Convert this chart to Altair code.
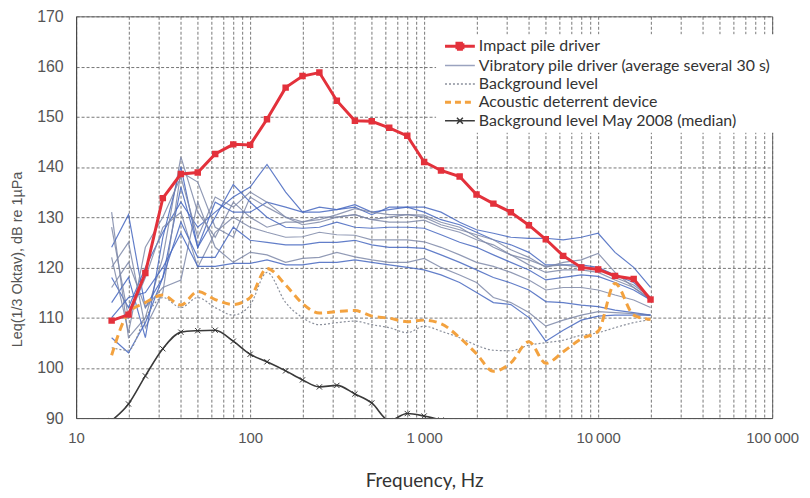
import altair as alt
import pandas as pd

# ---------------- data ----------------
FREQS = [16, 20, 25, 31.5, 40, 50, 63, 80, 100, 125, 160, 200, 250, 315, 400, 500,
         630, 800, 1000, 1250, 1600, 2000, 2500, 3150, 4000, 5000, 6300, 8000,
         10000, 12500, 16000, 20000]

SERIES = [
    "Impact pile driver",
    "Vibratory pile driver (average several 30 s)",
    "Background level",
    "Acoustic deterrent device",
    "Background level May 2008 (median)",
]
COLORS = ["#e3313b", "#9aa3bf", "#8b909c", "#f3a23f", "#3a3a3a"]

IMPACT = [109.4, 110.6, 118.9, 133.8, 138.6, 138.9, 142.6, 144.5, 144.4, 149.5,
          155.8, 158.1, 158.8, 153.2, 149.2, 149.1, 147.8, 146.2, 141.0, 139.3,
          138.1, 134.5, 132.7, 131.0, 128.4, 125.6, 122.3, 120.0, 119.6, 118.3,
          117.7, 113.6]

DETERRENT = [102.5, 111.0, 113.0, 114.5, 112.5, 115.2, 113.6, 112.6, 114.0, 119.8,
             116.5, 112.8, 110.9, 111.2, 111.4, 110.3, 109.9, 109.2, 109.5, 108.8,
             106.0, 102.8, 99.3, 101.0, 105.2, 100.9, 103.2, 105.8, 107.3, 116.8,
             110.5, 109.6]

BACKGROUND = [104.0, 103.5, 110.0, 114.0, 112.0, 114.0, 112.0, 110.5, 112.5, 119.0,
              113.0, 110.0, 108.6, 109.0, 109.3, 108.6, 108.0, 107.0, 108.3, 107.3,
              106.0, 104.5, 103.5, 103.4, 104.5, 105.0, 105.5, 106.5, 107.0, 108.0,
              109.0, 109.6]

MAY2008_FREQS = [16, 20, 25, 31.5, 40, 50, 63, 80, 100, 125, 160, 200, 250, 315,
                 400, 500, 630, 800, 1000, 1250]
MAY2008 = [89.5, 92.8, 98.4, 103.8, 107.1, 107.4, 107.5, 105.3, 102.7, 101.2,
           99.4, 97.6, 96.2, 96.5, 94.8, 93.0, 89.5, 90.9, 90.4, 89.6]

VIB_1 = [118, 112, 120, 127, 133, 128, 131, 134, 136, 140.5, 135, 131, 131, 131.5, 132.5, 131,
         131.5, 132, 131, 129.5, 128.5, 127, 125.5, 124.5, 123, 120.5, 120.5, 120.5, 120, 118.5, 117, 114]
VIB_2 = [131, 106, 110, 122, 142, 131, 126, 133, 130, 128, 129, 129, 130, 130, 130.5, 129.5,
         130, 130.5, 130, 128.5, 127.5, 126.5, 125.5, 123.5, 122, 120, 121, 121.5, 122.8, 119, 116, 113.5]
VIB_3 = [124, 130.5, 112, 118, 136, 124, 133, 131, 131, 133, 132, 131, 132, 131.5, 132, 130.5,
         132, 132, 132, 131, 129, 127.5, 126.8, 126, 125.8, 125.8, 125.5, 126, 126.8, 123, 120, 116]
VIB_4 = [120, 125, 108, 115, 139, 137, 128, 126, 134, 132, 130, 128.5, 129, 130, 130.5, 129.5,
         129, 129, 129.4, 128, 127, 125.5, 124.5, 122.5, 121.5, 120.2, 120.5, 120, 119.8, 118, 116.5, 114]
VIB_5 = [113, 118, 106, 126, 140, 124, 130, 136.5, 133, 130, 128, 127.8, 128, 129, 128, 127.8,
         128, 128, 127.8, 126.5, 125, 124, 122.5, 121, 119.5, 117.5, 118, 118.5, 118.2, 117, 115.5, 113.5]
VIB_6 = [128, 110, 118, 128, 131, 120, 127, 130, 128, 127, 126, 126.1, 127, 126.5, 126.4, 125.5,
         125.5, 125.5, 125.1, 124, 122.5, 121, 120.2, 119, 117.5, 115.5, 116, 116, 115.5, 114.5, 113.5, 112]
VIB_7 = [106, 103, 109, 118, 129, 122, 122, 128, 125.4, 125, 124.5, 124.5, 125, 125, 125.4, 124.5,
         124, 124, 123.8, 122.5, 121, 119.5, 118, 116.9, 115.5, 113.2, 113, 112.5, 112.2, 111.5, 111, 110.5]
VIB_8 = [116, 121, 112, 116, 117.5, 133, 124, 121, 123, 122.5, 121, 121.8, 122, 123, 122.1, 121.5,
         121, 121, 121.8, 120, 118.5, 117, 114, 113, 111, 108.3, 109.5, 110.5, 111.2, 111, 110.8, 110.5]
VIB_9 = [110, 114, 115, 120, 126.8, 120.2, 120.2, 120.8, 120.8, 121.5, 120.5, 120.5, 121, 121, 121.5, 121,
         120.5, 120, 119.5, 118.5, 117, 115, 113, 112.6, 110, 105.3, 107.5, 109.5, 110.3, 110.5, 110.5, 110.5]
VIB_10 = [122, 107, 124, 130, 138, 126, 134, 132, 135, 133, 130, 129.1, 129.5, 130.5, 131.7, 131,
          130.5, 130.5, 130.4, 129, 128, 126, 124, 122.5, 120.5, 119, 119.5, 119.5, 119, 117.5, 116, 113.8]
VIB_RUNS = [VIB_1, VIB_2, VIB_3, VIB_4, VIB_5, VIB_6, VIB_7, VIB_8, VIB_9, VIB_10]
VIB_SHADES = ["#4767c0", "#7e88a8"]

Y_TICKS = [90, 100, 110, 120, 130, 140, 150, 160, 170]
X_TICK_VALUES = [10, 100, 1000, 10000, 100000]
X_TICK_LABELS = ["10", "100", "1\u2009000", "10\u2009000", "100\u2009000"]
X_GRID = [m * 10 ** e for e in range(1, 5) for m in range(1, 10)] + [100000]

# ---------------- tables ----------------
def table(freqs, values, name):
    return pd.DataFrame({"freq": freqs, "value": values, "series": name})

df_imp = table(FREQS, IMPACT, SERIES[0])
df_bg = table(FREQS, BACKGROUND, SERIES[2])
df_add = table(FREQS, DETERRENT, SERIES[3])
df_may = table(MAY2008_FREQS, MAY2008, SERIES[4])
vib_rows = []
for i, run in enumerate(VIB_RUNS):
    for f, v in zip(FREQS, run):
        vib_rows.append({"freq": f, "value": v, "series": SERIES[1], "run": i, "shade": i % 2})
df_vib = pd.DataFrame(vib_rows)

# ---------------- scales / axes ----------------
label_expr = " : ".join(
    f"datum.value == {v} ? '{t}'" for v, t in zip(X_TICK_VALUES, X_TICK_LABELS)
) + " : ''"

GRID_COLOR = "#5f5f5f"
GRID_DASH = [3, 2]

x_enc = alt.X(
    "freq:Q",
    scale=alt.Scale(type="log", domain=[10, 100000], nice=False),
    axis=alt.Axis(
        values=X_GRID, labelExpr=label_expr, title="Frequency, Hz",
        ticks=False, labelOverlap=False, labelFlush=False,
        labelFont="Liberation Sans", labelFontSize=15, labelColor="#555",
        labelPadding=13, titleFont="Lato", titleFontSize=19, titleFontWeight="normal",
        titleColor="#333", titlePadding=26, domainColor="#555",
        grid=True, gridColor=GRID_COLOR, gridDash=GRID_DASH, gridWidth=1, gridOpacity=0.85,
    ),
)
y_enc = alt.Y(
    "value:Q",
    scale=alt.Scale(domain=[90, 170], nice=False),
    axis=alt.Axis(
        values=Y_TICKS, title="Leq(1/3 Oktav), dB re 1µPa", ticks=False,
        labelFont="Liberation Sans", labelFontSize=16, labelColor="#555", labelPadding=13,
        titleFont="Liberation Sans", titleFontSize=14.5, titleFontWeight="normal",
        titleColor="#555", titleX=-59, titleY=244, titleAlign="center",
        titleBaseline="middle", domainColor="#444",
        grid=True, gridColor=GRID_COLOR, gridDash=GRID_DASH, gridWidth=1, gridOpacity=0.85,
    ),
)

P_LINE = "M-3,0H3"
P_SQ = "M-3,0H3M-0.6,-0.6H0.6V0.6H-0.6ZM-0.25,-0.25H0.25V0.25H-0.25Z"
P_X = "M-3,0H3M-0.6,-0.6L0.6,0.6M-0.6,0.6L0.6,-0.6"

legend = alt.Legend(
    title=None, orient="none", legendX=362, legendY=18, fillColor="white",
    padding=4, symbolSize=100, symbolOffset=12, labelOffset=11, rowPadding=2.5,
    labelFont="Lato", labelFontSize=16, labelColor="#333", labelLimit=0,
    symbolOpacity=1,
    symbolType=alt.ExprRef(
        f"datum.value == '{SERIES[0]}' ? '{P_SQ}' : datum.value == '{SERIES[4]}' ? '{P_X}' : '{P_LINE}'"),
    symbolDash=alt.ExprRef(
        f"datum.value == '{SERIES[2]}' ? [2, 2] : datum.value == '{SERIES[3]}' ? [6, 4] : [1, 0]"),
    symbolStrokeWidth=alt.ExprRef(
        f"datum.value == '{SERIES[0]}' || datum.value == '{SERIES[3]}' ? 3 : 1.5"),
)
color_enc = alt.Color("series:N", scale=alt.Scale(domain=SERIES, range=COLORS), legend=legend)

# ---------------- layers ----------------
vib = alt.Chart(df_vib).mark_line(strokeWidth=1.2, opacity=0.85, clip=True).encode(
    x=x_enc, y=y_enc, detail="run:N",
    stroke=alt.Stroke("shade:N", scale=alt.Scale(domain=[0, 1], range=VIB_SHADES), legend=None),
)
bg = alt.Chart(df_bg).mark_line(strokeWidth=1.2, strokeDash=[2, 2], interpolate="monotone", clip=True).encode(
    x=x_enc, y=y_enc, color=color_enc)
add = alt.Chart(df_add).mark_line(strokeWidth=3, strokeDash=[8, 5], interpolate="monotone", clip=True).encode(
    x=x_enc, y=y_enc, color=color_enc)
may_line = alt.Chart(df_may).mark_line(strokeWidth=1.6, interpolate="monotone", clip=True).encode(
    x=x_enc, y=y_enc, color=color_enc)
may_pts = alt.Chart(df_may).mark_point(
    shape="M-1,-1L1,1M-1,1L1,-1", size=28, strokeWidth=1, color="#333", opacity=1, clip=True
).encode(x=x_enc, y=y_enc)
imp_line = alt.Chart(df_imp).mark_line(strokeWidth=3, clip=True).encode(
    x=x_enc, y=y_enc, color=color_enc)
imp_pts = alt.Chart(df_imp).mark_point(
    shape="square", size=42, filled=True, color="#e3313b", opacity=1, clip=True
).encode(x=x_enc, y=y_enc)

chart = alt.layer(vib, bg, add, may_line, may_pts, imp_line, imp_pts).properties(
    width=700, height=404,
    autosize=alt.AutoSizeParams(type="none"),
    padding={"left": 68.5, "top": 7, "right": 30, "bottom": 74},
    background="white",
).configure_view(stroke="#666", strokeWidth=1)

chart.save("out.html", embed_options={"renderer": "svg", "actions": False})
